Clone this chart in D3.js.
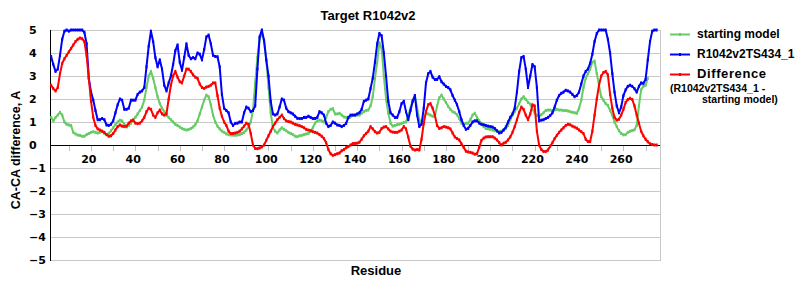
<!DOCTYPE html>
<html>
<head>
<meta charset="utf-8">
<script src="https://cdn.jsdelivr.net/npm/d3@7"></script>
<style>
  body { margin: 0; background: #fff; }
  text { font-family: "Liberation Sans", Arial, sans-serif; font-weight: bold; fill: #000; }
  .tick-label { font-family: "DejaVu Sans", Verdana, sans-serif; font-size: 11px; }
</style>
</head>
<body>
<svg id="chart" width="800" height="300"></svg>
<script>
// residues 3..276 (starting model stops at 272)
var firstResidue = 3;

var startingModel = [
  1.2,1.05,1.2,1.3,1.42,1.3,1.0,0.9,0.87,0.85,
  0.55,0.48,0.43,0.42,0.38,0.38,0.45,0.5,0.55,0.58,
  0.55,0.52,0.55,0.6,0.5,0.45,0.5,0.62,0.75,0.9,
  1.0,1.08,1.05,0.9,0.78,0.85,0.95,1.1,1.2,1.35,
  1.5,1.65,1.95,2.5,3.0,3.2,2.9,2.5,2.1,1.8,
  1.6,1.45,1.3,1.2,1.1,1.0,0.9,0.85,0.78,0.72,
  0.68,0.65,0.67,0.72,0.78,0.88,1.05,1.35,1.65,1.95,
  2.17,2.1,1.75,1.3,1.0,0.82,0.7,0.6,0.55,0.48,
  0.45,0.43,0.43,0.42,0.43,0.45,0.5,0.55,0.65,0.8,
  1.0,1.5,2.7,3.8,4.6,4.85,4.5,3.7,2.5,1.4,
  0.75,0.6,0.52,0.65,0.75,0.68,0.62,0.55,0.5,0.45,
  0.38,0.36,0.4,0.42,0.45,0.48,0.5,0.6,0.75,0.95,
  1.05,1.08,1.05,1.0,1.2,1.45,1.55,1.58,1.35,1.35,
  1.38,1.3,1.22,1.2,1.16,1.22,1.3,1.3,1.3,1.3,
  1.38,1.45,1.5,1.52,1.7,2.1,2.9,3.6,4.45,4.2,
  3.0,2.0,1.4,0.95,0.82,0.85,0.88,0.9,0.94,0.98,
  1.0,1.3,1.6,1.95,2.15,1.6,1.1,0.95,1.15,1.38,
  1.35,1.3,1.25,1.23,1.7,2.05,2.17,2.0,1.85,1.68,
  1.55,1.45,1.4,1.32,1.15,0.95,0.92,0.94,0.95,1.1,
  1.3,1.38,1.2,1.05,0.94,0.8,0.72,0.7,0.68,0.65,
  0.62,0.6,0.58,0.6,0.65,0.72,0.85,1.1,1.3,1.45,
  1.6,1.8,2.0,2.1,1.98,1.85,1.78,1.55,1.4,1.28,
  1.23,1.32,1.4,1.5,1.52,1.52,1.5,1.52,1.55,1.52,
  1.52,1.5,1.5,1.48,1.45,1.42,1.4,1.38,1.6,1.95,
  2.5,2.9,3.1,3.3,3.6,3.65,3.1,2.6,2.1,1.95,
  1.8,1.72,1.5,1.3,1.0,0.8,0.62,0.5,0.44,0.45,
  0.55,0.6,0.63,0.66,0.85,1.7,2.4,2.55,2.6,2.9
];

var model434 = [
  3.85,3.5,3.2,3.3,3.9,4.6,4.95,5.0,4.95,5.0,
  5.0,5.0,5.0,5.0,5.0,4.9,4.4,2.9,2.3,1.95,
  1.5,1.1,1.1,1.15,1.1,0.87,0.85,0.9,1.05,1.4,
  1.75,2.0,1.95,1.55,1.55,1.6,1.95,1.95,1.95,2.2,
  2.3,2.35,2.5,3.4,4.3,4.95,4.5,3.8,3.4,3.7,
  3.3,2.6,2.35,2.7,3.0,3.5,4.1,4.35,3.6,3.25,
  3.8,4.4,3.9,3.75,3.8,3.75,4.0,3.95,3.7,4.15,
  4.7,4.78,4.4,3.9,3.85,3.84,3.4,2.2,1.6,1.5,
  1.4,1.0,0.85,0.94,0.95,1.0,1.0,1.4,1.65,1.6,
  1.45,1.5,1.7,3.3,4.7,5.0,4.55,3.7,3.0,1.9,
  1.35,1.3,1.35,1.65,2.0,1.95,1.6,1.45,1.4,1.35,
  1.25,1.16,1.15,1.15,1.2,1.2,1.25,1.2,1.15,1.15,
  1.2,1.45,1.4,1.3,0.95,0.8,0.85,1.0,0.95,0.87,
  0.85,0.8,0.85,0.94,1.2,1.3,1.3,1.3,1.35,1.4,
  1.55,1.9,1.95,2.0,2.45,2.9,3.6,4.4,4.85,4.75,
  4.0,3.0,1.9,1.4,1.3,1.2,1.2,1.45,1.8,1.9,
  1.45,1.1,1.5,1.9,2.15,1.3,0.8,0.9,1.6,2.7,
  3.1,3.2,2.95,2.85,2.85,2.97,2.75,2.65,2.55,2.5,
  2.4,2.15,1.95,1.75,1.45,1.1,0.85,0.68,0.72,0.85,
  1.0,1.05,1.05,0.95,0.9,0.88,0.85,0.82,0.8,0.78,
  0.72,0.62,0.52,0.55,0.65,0.78,1.0,1.2,1.35,1.6,
  2.3,3.2,3.8,3.85,3.3,2.5,3.0,3.5,3.4,2.5,
  1.05,1.08,1.1,1.15,1.2,1.28,1.4,1.65,1.95,2.15,
  2.25,2.3,2.38,2.35,2.3,2.2,2.1,2.15,2.3,2.65,
  3.0,3.2,3.3,3.55,3.95,4.5,4.85,5.0,5.0,5.0,
  5.0,4.6,4.0,3.1,2.3,1.7,1.4,1.65,2.15,2.4,
  2.55,2.6,2.55,2.45,2.3,2.55,2.7,2.68,2.85,3.7,
  4.5,4.95,5.0,5.0
];

var difference = [
  2.6,2.45,2.35,2.5,3.1,3.55,3.75,3.9,4.05,4.2,
  4.35,4.5,4.6,4.65,4.62,4.5,3.9,2.9,1.9,1.2,
  0.85,0.7,0.65,0.6,0.55,0.45,0.38,0.4,0.5,0.65,
  0.8,0.87,0.82,0.8,0.82,0.95,1.05,1.08,0.95,0.93,
  0.95,1.05,1.2,1.45,1.6,1.55,1.3,1.2,1.4,1.52,
  1.35,1.3,1.35,2.0,2.6,3.0,3.2,2.95,2.75,2.7,
  3.0,3.3,3.3,3.2,3.05,2.95,2.9,2.65,2.5,2.46,
  2.52,2.55,2.6,2.7,2.7,2.15,1.6,1.25,1.0,0.85,
  0.6,0.5,0.5,0.52,0.55,0.6,0.7,0.82,0.95,0.9,
  0.5,0.0,-0.15,-0.16,-0.13,-0.08,0.0,0.2,0.4,0.6,
  0.8,0.95,1.1,1.2,1.3,1.15,1.05,1.02,1.0,0.95,
  0.9,0.87,0.84,0.8,0.75,0.68,0.65,0.62,0.58,0.55,
  0.52,0.45,0.38,0.28,0.1,-0.2,-0.38,-0.45,-0.42,-0.38,
  -0.35,-0.25,-0.2,-0.12,-0.07,0.0,0.06,0.07,0.08,0.12,
  0.25,0.4,0.5,0.6,0.8,0.7,0.58,0.52,0.55,0.72,
  0.78,0.8,0.7,0.6,0.56,0.55,0.55,0.6,0.65,0.8,
  0.7,0.35,-0.05,-0.18,-0.22,-0.2,-0.22,0.25,0.95,1.45,
  1.75,1.8,1.6,1.3,0.85,0.72,0.75,0.8,0.78,0.75,
  0.7,0.52,0.35,0.28,0.22,0.05,-0.1,-0.27,-0.3,-0.32,
  -0.35,-0.4,-0.38,-0.1,0.2,0.3,0.35,0.36,0.36,0.36,
  0.3,0.22,0.1,0.0,0.08,0.12,0.22,0.35,0.55,0.8,
  1.1,1.42,1.65,1.55,1.3,1.1,1.35,1.75,1.7,0.6,
  0.0,-0.2,-0.28,-0.28,-0.22,-0.05,0.1,0.28,0.42,0.55,
  0.65,0.75,0.85,0.9,0.88,0.82,0.78,0.73,0.65,0.58,
  0.5,0.25,0.15,0.15,0.6,1.3,2.0,2.6,3.0,3.15,
  3.2,3.05,2.2,1.6,1.2,1.08,1.12,1.3,1.55,1.85,
  1.98,2.03,1.98,1.7,1.3,0.95,0.6,0.4,0.25,0.14,
  0.05,0.02,0.0,0.0
];

var xLabelTicks = [20, 40, 60, 80, 100, 120, 140, 160, 180, 200, 220, 240, 260];
var yTicks = [-5, -4, -3, -2, -1, 0, 1, 2, 3, 4, 5];

var series = [
  {name: "starting model", color: "#66cc66", values: startingModel},
  {name: "R1042v2TS434_1", color: "#0000ff", values: model434},
  {name: "Difference", color: "#ff0000", values: difference}
];

var svg = d3.select("#chart");
//plot box (don't call these top/left: window.top is read-only)
var plotL = 50, plotR = 660, plotT = 30, plotB = 260;

var x = d3.scaleLinear().domain([2.5, 277.5]).range([plotL, plotR]);
var y = d3.scaleLinear().domain([-5, 5]).range([plotB, plotT]);

//grid lines (0 is drawn black later)
svg.append("g").selectAll("line")
  .data(yTicks.filter(function(d){ return d !== 0; }))
  .enter().append("line")
  .attr("x1", plotL).attr("x2", plotR)
  .attr("y1", function(d){ return y(d) + 0.5; })
  .attr("y2", function(d){ return y(d) + 0.5; })
  .attr("stroke", "#c8c8c8").attr("stroke-width", 1);

//right border of plot
svg.append("line")
  .attr("x1", plotR + 0.5).attr("x2", plotR + 0.5)
  .attr("y1", plotT).attr("y2", plotB + 1)
  .attr("stroke", "#c8c8c8");

//small ticks under the zero line, every 10 residues
var minorTicks = d3.range(11, 277, 10);
svg.append("g").selectAll("line")
  .data(minorTicks)
  .enter().append("line")
  .attr("x1", function(d){ return Math.round(x(d)) + 0.5; })
  .attr("x2", function(d){ return Math.round(x(d)) + 0.5; })
  .attr("y1", y(0) + 1).attr("y2", y(0) + 6)
  .attr("stroke", "#c0c0c0");

//y labels are left aligned
svg.append("g").selectAll("text")
  .data(yTicks)
  .enter().append("text")
  .attr("class", "tick-label")
  .attr("x", 29)
  .attr("y", function(d){ return y(d) + 4; })
  .text(function(d){ return d < 0 ? "\u2212" + Math.abs(d) : d; });

svg.append("g").selectAll("text")
  .data(xLabelTicks)
  .enter().append("text")
  .attr("class", "tick-label")
  .attr("text-anchor", "middle")
  .attr("x", function(d){ return x(d); })
  .attr("y", 163)
  .text(function(d){ return d; });

//axis lines
svg.append("line")
  .attr("x1", plotL + 0.5).attr("x2", plotL + 0.5)
  .attr("y1", plotT).attr("y2", plotB + 1)
  .attr("stroke", "#000");
svg.append("line")
  .attr("x1", plotL).attr("x2", plotR)
  .attr("y1", y(0) + 0.5).attr("y2", y(0) + 0.5)
  .attr("stroke", "#000");

var line = d3.line()
  .x(function(d){ return x(d.r); })
  .y(function(d){ return y(d.v); });

var plot = svg.append("g");
series.forEach(function(s){
  var pts = s.values.map(function(v, i){ return {r: firstResidue + i, v: v}; });
  plot.append("path")
    .datum(pts)
    .attr("d", line)
    .attr("fill", "none")
    .attr("stroke", s.color)
    .attr("stroke-width", 2)
    .attr("stroke-linejoin", "round");
  plot.append("g").selectAll("rect")
    .data(pts)
    .enter().append("rect")
    .attr("x", function(d){ return x(d.r) - 1; })
    .attr("y", function(d){ return y(d.v) - 1.5; })
    .attr("width", 2).attr("height", 3)
    .attr("fill", s.color);
});

//title + axis titles
svg.append("text")
  .attr("x", 368).attr("y", 20)
  .attr("text-anchor", "middle")
  .attr("font-size", "13px")
  .text("Target R1042v2");

svg.append("text")
  .attr("x", 376).attr("y", 275)
  .attr("text-anchor", "middle")
  .attr("font-size", "13px")
  .text("Residue");

svg.append("text")
  .attr("transform", "translate(20,150) rotate(-90)")
  .attr("text-anchor", "middle")
  .attr("font-size", "12.5px")
  .text("CA-CA difference, A");

//legend
var legendY = [34, 54, 74];
series.forEach(function(s, i){
  var g = svg.append("g");
  g.append("line")
    .attr("x1", 670).attr("x2", 690)
    .attr("y1", legendY[i] + 0.5).attr("y2", legendY[i] + 0.5)
    .attr("stroke", s.color).attr("stroke-width", 2);
  g.append("rect")
    .attr("x", 679).attr("y", legendY[i] - 1)
    .attr("width", 2).attr("height", 3)
    .attr("fill", s.color);
  g.append("text")
    .attr("x", 697)
    .attr("y", legendY[i] + 4)
    .attr("font-size", i === 2 ? "13px" : "12px")
    .attr("letter-spacing", i === 2 ? "0.6px" : "0px")
    .text(s.name);
});
//sub caption under "Difference"
svg.append("text")
  .attr("x", 670).attr("y", 92)
  .attr("font-size", "10.5px")
  .text("(R1042v2TS434_1 -");
svg.append("text")
  .attr("x", 702).attr("y", 103)
  .attr("font-size", "10.5px")
  .text("starting model)");
</script>
</body>
</html>
